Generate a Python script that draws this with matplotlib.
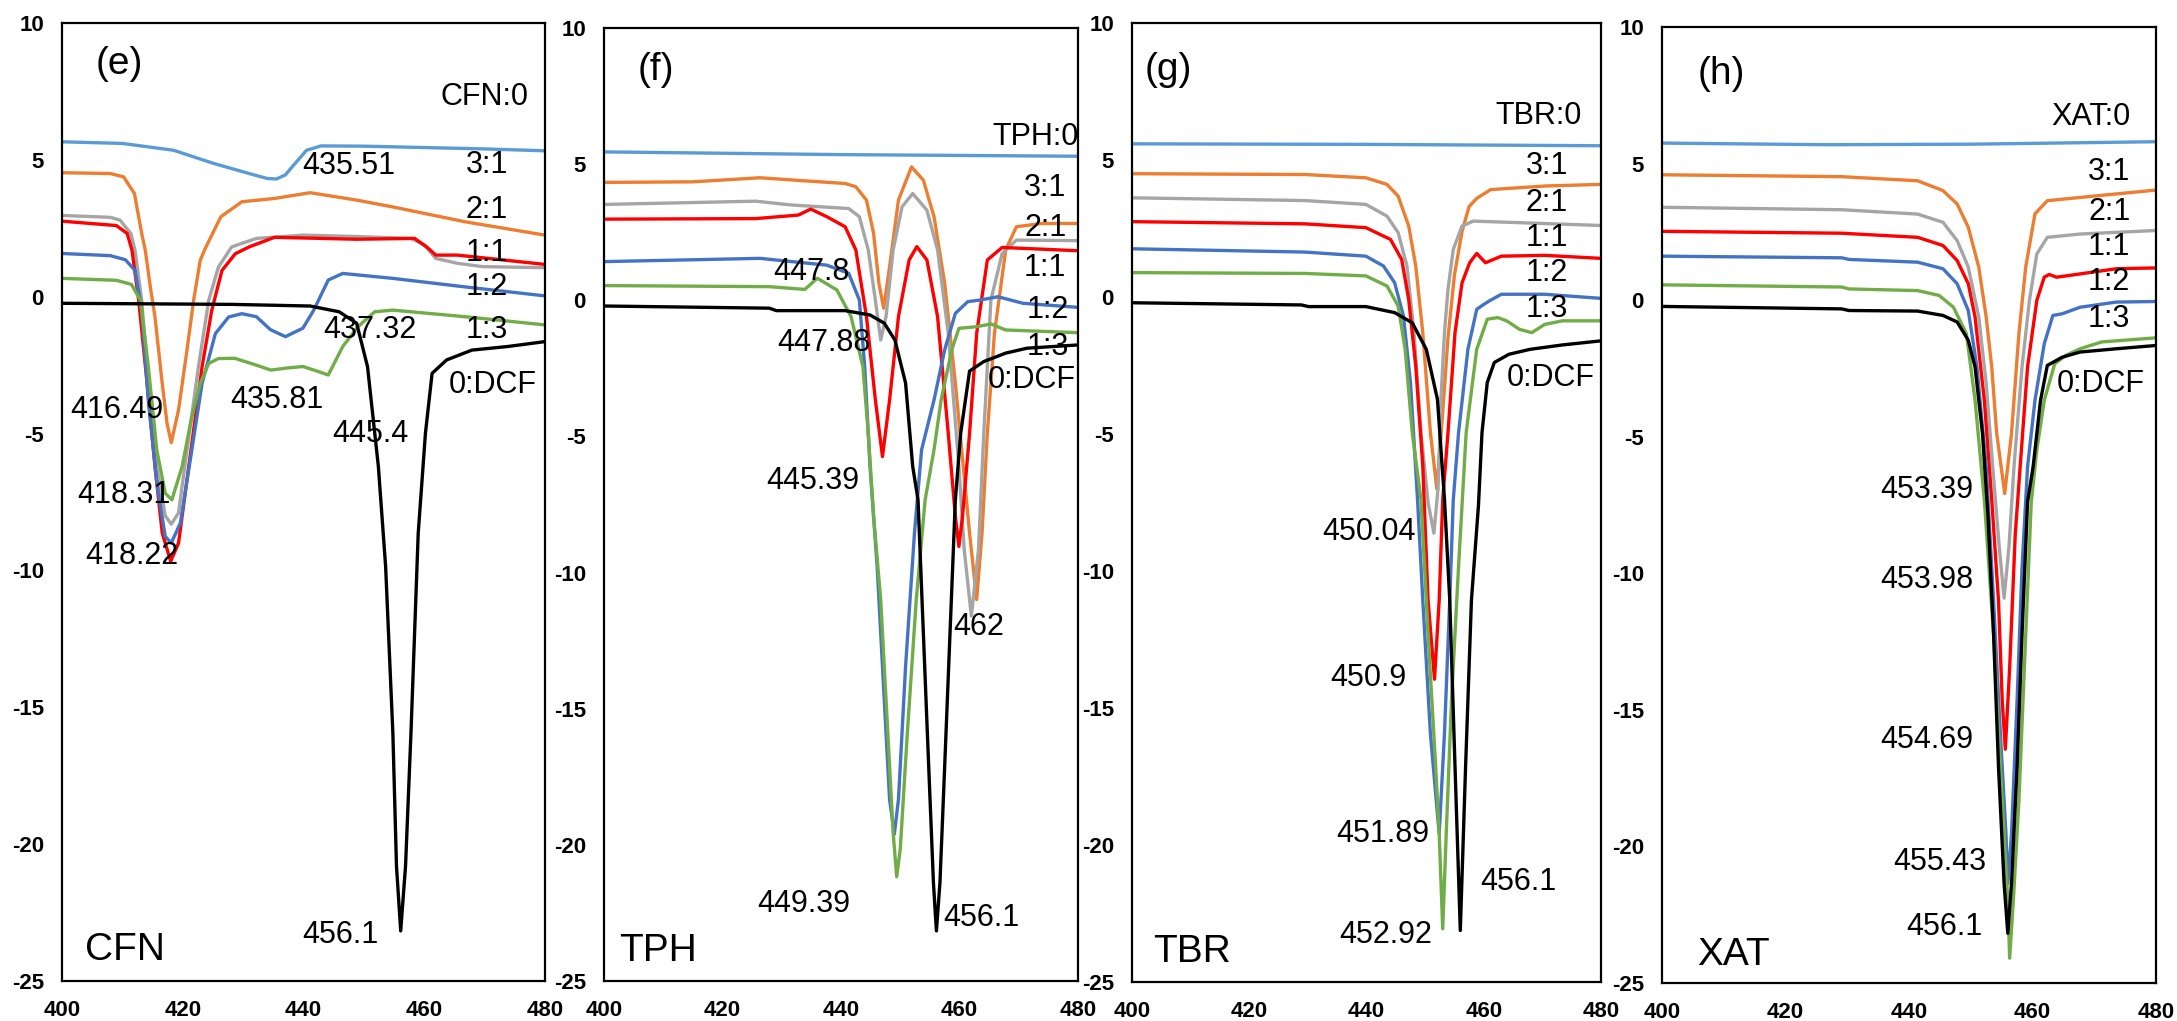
import matplotlib
matplotlib.use("Agg")
import matplotlib.pyplot as plt

plt.rcParams['font.family'] = ['Liberation Sans', 'DejaVu Sans']
plt.rcParams['axes.unicode_minus'] = False

# ---- data (wavelength, signal) ----
# panel (e) CFN
e_0 = [(400, 5.66), (410, 5.6), (418.5, 5.35), (425.1, 4.87), (431, 4.5), (434, 4.32), (435.5, 4.30),
       (437, 4.45), (438.1, 4.74), (440.5, 5.35), (442.9, 5.51), (450, 5.5), (460, 5.45), (470, 5.4), (480, 5.33)]
e_31 = [(400, 4.53), (408, 4.5), (410.2, 4.38), (412, 3.77), (413.2, 2.31), (413.8, 1.69), (414.6, 0.4),
        (415.4, -0.74), (416.6, -3.17), (417.4, -4.63), (418.1, -5.33), (419.3, -4.14), (420.7, -1.95),
        (421.8, -0.13), (422.9, 1.33), (423.7, 1.75), (426.3, 2.92), (429.8, 3.47), (435.2, 3.59),
        (441.1, 3.8), (448.8, 3.53), (454.8, 3.28), (466.7, 2.74), (480, 2.25)]
e_21 = [(400, 2.97), (408, 2.9), (409.6, 2.8), (411.4, 2.31), (412.1, 1.69), (413.2, -0.13), (414.3, -3.17),
        (415.7, -6.2), (417.1, -8.0), (418.1, -8.31), (419.3, -7.9), (420.7, -5.6), (422.6, -2.56),
        (424.3, -0.13), (425.9, 1.08), (428.1, 1.82), (432.2, 2.13), (440, 2.25), (448.8, 2.2),
        (457.8, 2.13), (460, 1.9), (461.9, 1.4), (465.5, 1.22), (469.6, 1.1), (480, 1.06)]
e_11 = [(400, 2.76), (409, 2.6), (410.8, 2.31), (411.6, 1.69), (412.7, -0.13), (414.1, -3.17), (415.4, -6.2),
        (416.6, -8.63), (418, -9.67), (419.3, -9.0), (421, -6.2), (423.2, -2.56), (424.8, -0.5),
        (426.5, 0.96), (428.7, 1.57), (431, 1.82), (435.2, 2.17), (448.8, 2.1), (458.4, 2.13),
        (460.5, 1.8), (461.9, 1.52), (465.5, 1.52), (480, 1.18)]
e_12 = [(400, 1.58), (408, 1.5), (410.5, 1.35), (412.1, 0.96), (413.2, -0.5), (414.3, -3.8), (415.7, -6.8),
        (417.1, -8.76), (418.1, -9.0), (419.6, -8.27), (421.5, -5.6), (423.2, -3.17), (425.4, -1.35),
        (427.6, -0.74), (429.8, -0.62), (432.2, -0.73), (434.5, -1.2), (437, -1.46), (439.9, -1.15),
        (441.7, -0.49), (444.1, 0.61), (446.5, 0.85), (454.8, 0.67), (466.7, 0.36), (480, 0.03)]
e_13 = [(400, 0.67), (409, 0.6), (411.5, 0.45), (413, -0.13), (414.3, -2.56), (415.7, -5.6), (417.1, -7.18),
        (418.2, -7.42), (419.9, -6.2), (421.5, -4.38), (422.9, -3.17), (424.3, -2.44), (425.9, -2.26),
        (428.6, -2.25), (431.5, -2.45), (434.6, -2.68), (437.5, -2.6), (439.9, -2.55), (442, -2.7),
        (444.1, -2.86), (446.5, -1.82), (449, -1.1), (451.8, -0.55), (454.8, -0.49), (466.7, -0.73), (480, -1.03)]
e_dcf = [(400, -0.24), (428.1, -0.28), (441.1, -0.34), (445.9, -0.55), (448.8, -0.97), (450.6, -2.55),
         (452.4, -6.2), (453.6, -9.85), (454.8, -15.93), (455.4, -20.8), (456.1, -23.17), (456.9, -20.8),
         (457.8, -15.93), (459, -8.64), (460.2, -4.98), (461.3, -2.8), (463.7, -2.31), (467.9, -1.95),
         (473.8, -1.82), (480, -1.64)]

# panel (f) TPH
f_0 = [(400, 5.45), (440, 5.35), (480, 5.29)]
f_31 = [(400, 4.33), (415, 4.35), (426.3, 4.5), (433, 4.4), (440.7, 4.29), (442.5, 4.17), (444.3, 3.68),
        (445.5, 2.46), (446.4, 0.62), (447.2, -0.29), (448.2, 1.23), (449.7, 3.68), (451.9, 4.9),
        (453.9, 4.41), (455.7, 3.07), (457.5, 0.62), (459.3, -3.04), (461.7, -8.55), (462.9, -10.99),
        (463.8, -8.55), (464.7, -4.88), (465.9, -1.21), (467.8, 1.85), (469.6, 2.7), (473.8, 2.82), (480, 2.82)]
f_21 = [(400, 3.52), (425.6, 3.64), (431.6, 3.5), (441.3, 3.37), (443.1, 3.07), (444.6, 1.85), (445.8, 0.01),
        (446.7, -1.46), (447.6, -0.6), (448.8, 1.85), (450.3, 3.43), (452.1, 3.92), (454.5, 3.31),
        (456.3, 1.85), (458.1, -1.21), (459.9, -6.1), (460.8, -9.16), (462.0, -11.6), (463.2, -9.16),
        (464.1, -4.88), (465.3, 0.01), (467.2, 1.72), (469.6, 2.21), (480, 2.19)]
f_11 = [(400, 2.98), (425.6, 3.0), (432.8, 3.13), (434.9, 3.35), (437.6, 3.07), (440.7, 2.7), (442.5, 1.85),
        (444.3, -0.6), (445.8, -3.66), (447.0, -5.74), (448.2, -3.66), (449.7, -0.6), (451.5, 1.48),
        (452.8, 1.97), (454.5, 1.48), (456.3, -0.6), (458.1, -4.88), (459.3, -7.94), (459.9, -9.04),
        (460.5, -7.94), (461.7, -4.88), (462.9, -1.21), (464.7, 1.48), (467.2, 1.94), (480, 1.82)]
f_12 = [(400, 1.42), (426.3, 1.54), (437.6, 1.29), (441.3, 0.99), (443.1, 0.01), (444, -2.44), (444.9, -6.1),
        (446.1, -9.77), (447.3, -14.66), (448.2, -18.33), (449, -19.61), (449.7, -18.33), (450.9, -13.44),
        (452.4, -8.55), (453.6, -5.49), (455.7, -3.66), (457.5, -1.82), (459.3, -0.48), (461.4, -0.05),
        (463.5, 0.01), (466.5, 0.13), (470.7, -0.11), (480, -0.26)]
f_13 = [(400, 0.54), (427.9, 0.5), (433.9, 0.4), (436, 0.81), (439.3, 0.38), (441.7, -0.6), (443.7, -2.44),
        (444.6, -4.88), (445.5, -7.94), (446.7, -11.0), (447.9, -15.88), (448.8, -19.55), (449.4, -21.17),
        (450, -20.16), (451.2, -15.88), (452.7, -11.0), (454.2, -7.33), (455.7, -5.49), (456.9, -3.66),
        (458.7, -1.82), (459.9, -1.03), (462.9, -0.97), (465.3, -0.87), (467.8, -1.09), (480, -1.19)]
f_dcf = [(400, -0.21), (427.9, -0.29), (429.1, -0.38), (440.7, -0.38), (444.9, -0.54), (447.3, -0.84),
         (449.1, -1.46), (450.9, -3.04), (452.1, -6.1), (453, -7.33), (453.9, -12.22), (454.8, -17.11),
         (455.6, -21.39), (456.1, -23.16), (456.7, -21.39), (457.5, -17.11), (458.4, -12.22), (459.3, -7.33),
         (460.2, -4.88), (461.7, -2.6), (464.1, -2.25), (467.8, -1.94), (471.4, -1.76), (480, -1.64)]

# panel (g) TBR
g_0 = [(400, 5.59), (440, 5.57), (480, 5.52)]
g_31 = [(400, 4.5), (429.5, 4.47), (439.9, 4.35), (443.5, 4.11), (445.4, 3.68), (447.2, 2.59), (448.4, 1.13),
        (449.6, -1.3), (450.9, -4.95), (452.0, -7.0), (452.9, -4.5), (453.9, -1.5), (455.0, 0.8),
        (456.3, 2.4), (457.5, 3.3), (458.8, 3.6), (461.2, 3.92), (470.4, 4.05), (480, 4.11)]
g_21 = [(400, 3.62), (429.5, 3.52), (439.9, 3.38), (443.5, 2.95), (445.4, 2.35), (446.9, 1.13), (448.1, -1.3),
        (449.3, -4.95), (450.5, -7.5), (451.5, -8.62), (452.2, -7.0), (452.7, -3.73), (453.3, -1.3),
        (453.9, 0.28), (454.8, 1.74), (456.3, 2.59), (458.2, 2.77), (480, 2.61)]
g_11 = [(400, 2.75), (429.5, 2.67), (439.9, 2.53), (444.1, 2.1), (446.0, 1.37), (447.2, -0.09), (448.4, -2.52),
        (449.6, -6.16), (450.5, -11.06), (451.6, -13.95), (452.4, -11.06), (453.0, -7.41), (453.9, -4.95),
        (455.1, -1.3), (456.3, 0.52), (457.6, 1.25), (458.8, 1.59), (460.3, 1.25), (463.0, 1.49),
        (470.4, 1.52), (480, 1.41)]
g_12 = [(400, 1.76), (429.5, 1.64), (439.9, 1.49), (442.9, 1.13), (444.8, 0.52), (446.3, -0.69), (447.5, -3.12),
        (448.7, -7.38), (449.6, -11.06), (450.9, -15.93), (452.4, -19.59), (453.3, -15.93), (454.2, -11.06),
        (454.8, -7.41), (455.7, -4.95), (457.3, -1.91), (458.8, -0.45), (460.0, -0.27), (460.9, -0.15),
        (463.0, 0.1), (470.4, 0.1), (480, -0.05)]
g_13 = [(400, 0.89), (429.5, 0.86), (439.9, 0.77), (443.5, 0.4), (445.4, -0.33), (446.6, -1.91), (447.8, -4.95),
        (449.3, -7.41), (450.5, -12.28), (451.8, -17.15), (452.4, -19.59), (453.0, -23.06), (453.6, -19.59),
        (454.5, -14.71), (455.7, -9.84), (457.0, -4.95), (458.8, -1.91), (460.6, -0.81), (462.4, -0.75),
        (463.9, -0.87), (466.1, -1.18), (468.2, -1.3), (470.4, -1.0), (473.4, -0.87), (480, -0.87)]
g_dcf = [(400, -0.21), (428.9, -0.29), (430.1, -0.35), (439.9, -0.35), (444.8, -0.57), (447.8, -0.94),
         (450.2, -1.91), (452.1, -3.73), (453.3, -7.38), (454.2, -11.06), (455.1, -17.15), (456.0, -23.12),
         (456.9, -17.15), (457.9, -11.06), (459.1, -7.6), (459.7, -4.95), (460.6, -3.12), (461.8, -2.39),
         (464.3, -2.09), (467.9, -1.91), (473.4, -1.75), (480, -1.6)]

# panel (h) XAT
h_0 = [(400, 5.75), (426.7, 5.69), (450.1, 5.71), (480, 5.8)]
h_31 = [(400, 4.59), (429.1, 4.52), (441.4, 4.37), (445.5, 4.01), (447.8, 3.52), (449.6, 2.67), (451.3, 1.21),
        (452.5, -0.62), (453.4, -2.45), (454.2, -4.88), (455.5, -7.08), (456.6, -4.88), (457.8, -1.23),
        (458.9, 1.21), (460.4, 3.16), (462.4, 3.64), (467.7, 3.76), (480, 4.03)]
h_21 = [(400, 3.40), (429.1, 3.31), (441.4, 3.15), (445.5, 2.85), (447.8, 2.18), (449.6, 1.21), (451.3, -0.62),
        (452.5, -3.06), (453.7, -6.5), (454.6, -9.0), (455.4, -10.91), (456.2, -9.0), (457.0, -6.1),
        (458.3, -2.45), (459.5, -0.01), (460.7, 1.69), (462.4, 2.30), (467.7, 2.42), (480, 2.55)]
h_11 = [(400, 2.52), (429.1, 2.45), (441.4, 2.30), (445.5, 2.0), (447.8, 1.45), (449.6, 0.6), (450.7, -0.62),
        (452.2, -3.67), (453.4, -7.32), (454.5, -11.03), (455.1, -14.68), (455.6, -16.44), (456.3, -13.46),
        (457.2, -8.6), (458.0, -6.1), (459.2, -2.45), (460.7, -0.01), (461.9, 0.84), (462.7, 0.94),
        (463.9, 0.84), (467.7, 0.96), (473.6, 1.15), (480, 1.18)]
h_12 = [(400, 1.61), (429.1, 1.55), (430.3, 1.49), (441.4, 1.39), (445.5, 1.15), (447.8, 0.6), (449.6, -0.38),
        (451.0, -2.45), (452.5, -6.1), (453.7, -11.03), (454.8, -15.89), (455.7, -19.54), (456.0, -21.36),
        (456.6, -19.54), (457.5, -14.68), (458.3, -9.82), (459.2, -6.1), (460.4, -3.67), (461.9, -1.6),
        (463.3, -0.56), (464.8, -0.5), (467.7, -0.26), (473.6, -0.07), (480, -0.05)]
h_13 = [(400, 0.56), (429.1, 0.48), (430.3, 0.41), (441.4, 0.35), (444.9, 0.17), (447.2, -0.26), (449.3, -1.23),
        (450.7, -3.67), (452.2, -7.32), (453.7, -12.25), (455.1, -18.32), (456.0, -21.97), (456.3, -24.09),
        (456.9, -21.97), (457.8, -18.32), (458.9, -12.25), (459.8, -7.39), (460.7, -5.49), (461.9, -3.67),
        (463.6, -2.33), (465.4, -2.02), (467.7, -1.78), (471.2, -1.53), (480, -1.38)]
h_dcf = [(400, -0.23), (429.1, -0.32), (430.3, -0.38), (441.4, -0.40), (445.5, -0.56), (447.8, -0.8),
         (449.6, -1.47), (450.7, -2.45), (451.9, -4.88), (452.8, -7.93), (453.7, -12.25), (454.5, -17.11),
         (455.4, -21.36), (456.0, -23.18), (456.6, -21.36), (457.5, -17.11), (458.3, -12.25), (459.2, -7.39),
         (460.1, -6.1), (461.3, -3.67), (462.4, -2.39), (464.8, -2.09), (467.7, -1.9), (473.6, -1.78), (480, -1.66)]

x_ticks = [400, 420, 440, 460, 480]
y_ticks = [-25, -20, -15, -10, -5, 0, 5, 10]

# labels (text, x, y, horizontal alignment, size)
e_labels = [("(e)", 405.5, 8.52, 'left', 28), ("CFN:0", 477.3, 7.3, 'right', 22),
            ("435.51", 439.8, 4.78, 'left', 22), ("3:1", 466.9, 4.8, 'left', 22),
            ("2:1", 466.9, 3.15, 'left', 22), ("1:1", 466.9, 1.59, 'left', 22),
            ("1:2", 466.9, 0.35, 'left', 22), ("1:3", 466.9, -1.2, 'left', 22),
            ("437.32", 443.2, -1.2, 'left', 22), ("0:DCF", 464.0, -3.24, 'left', 22),
            ("416.49", 401.3, -4.14, 'left', 22), ("435.81", 427.9, -3.78, 'left', 22),
            ("445.4", 444.7, -5.03, 'left', 22), ("418.31", 402.5, -7.25, 'left', 22),
            ("418.22", 403.8, -9.48, 'left', 22), ("456.1", 439.8, -23.33, 'left', 22),
            ("CFN", 403.8, -23.88, 'left', 28)]
f_labels = [("(f)", 405.7, 8.45, 'left', 28), ("TPH:0", 480.1, 6.0, 'right', 22),
            ("3:1", 470.9, 4.11, 'left', 22), ("2:1", 470.9, 2.64, 'left', 22),
            ("1:1", 470.9, 1.17, 'left', 22), ("1:2", 471.4, -0.36, 'left', 22),
            ("1:3", 471.4, -1.7, 'left', 22), ("0:DCF", 464.8, -2.92, 'left', 22),
            ("447.8", 428.6, 1.05, 'left', 22), ("447.88", 429.3, -1.58, 'left', 22),
            ("445.39", 427.4, -6.65, 'left', 22), ("462", 459.0, -12.0, 'left', 22),
            ("449.39", 425.9, -22.18, 'left', 22), ("456.1", 457.2, -22.67, 'left', 22),
            ("TPH", 402.6, -23.9, 'left', 28)]
g_labels = [("(g)", 402.1, 8.3, 'left', 28), ("TBR:0", 476.8, 6.6, 'right', 22),
            ("3:1", 467.2, 4.78, 'left', 22), ("2:1", 467.2, 3.44, 'left', 22),
            ("1:1", 467.2, 2.16, 'left', 22), ("1:2", 467.2, 0.89, 'left', 22),
            ("1:3", 467.2, -0.45, 'left', 22), ("0:DCF", 464.0, -2.94, 'left', 22),
            ("450.04", 448.4, -8.56, 'right', 22), ("450.9", 446.9, -13.92, 'right', 22),
            ("451.89", 450.7, -19.59, 'right', 22), ("456.1", 459.4, -21.35, 'left', 22),
            ("452.92", 451.2, -23.3, 'right', 22), ("TBR", 403.6, -23.91, 'left', 28)]
h_labels = [("(h)", 405.7, 8.27, 'left', 28), ("XAT:0", 475.8, 6.69, 'right', 22),
            ("3:1", 469.0, 4.68, 'left', 22), ("2:1", 469.0, 3.22, 'left', 22),
            ("1:1", 469.0, 1.94, 'left', 22), ("1:2", 469.0, 0.66, 'left', 22),
            ("1:3", 469.0, -0.68, 'left', 22), ("0:DCF", 463.9, -3.06, 'left', 22),
            ("453.39", 450.4, -6.95, 'right', 22), ("453.98", 450.4, -10.24, 'right', 22),
            ("454.69", 450.4, -16.11, 'right', 22), ("455.43", 452.5, -20.57, 'right', 22),
            ("456.1", 451.9, -22.94, 'right', 22), ("XAT", 405.7, -23.99, 'left', 28)]

colors = ['#5B9BD5', '#ED7D31', '#A5A5A5', '#FF0000', '#4472C4', '#70AD47', '#000000']

panels = [
    ([e_0, e_31, e_21, e_11, e_12, e_13, e_dcf], e_labels, (62, 545, 23, 981)),
    ([f_0, f_31, f_21, f_11, f_12, f_13, f_dcf], f_labels, (604, 1078, 28, 981)),
    ([g_0, g_31, g_21, g_11, g_12, g_13, g_dcf], g_labels, (1132, 1601, 23, 982)),
    ([h_0, h_31, h_21, h_11, h_12, h_13, h_dcf], h_labels, (1662, 2156, 27, 983)),
]

W, H = 2177, 1021
fig = plt.figure(figsize=(W / 100, H / 100), dpi=100)

for curves, labels, (l, r, t, b) in panels:
    ax = fig.add_axes([l / W, 1 - b / H, (r - l) / W, (b - t) / H])
    for pts, c in zip(curves, colors):
        xs = [p[0] for p in pts]
        ys = [p[1] for p in pts]
        ax.plot(xs, ys, color=c, lw=2.4, solid_joinstyle='round')
    for txt, x, y, ha, sz in labels:
        ax.text(x, y, txt, ha=ha, va='center', fontsize=sz, color='black')
    ax.set_xlim(400, 480)
    ax.set_ylim(-25, 10)
    ax.set_xticks(x_ticks, labels=[str(v) for v in x_ticks], fontsize=16, fontweight='bold')
    ax.set_yticks(y_ticks, labels=[str(v) for v in y_ticks], fontsize=16, fontweight='bold')
    ax.tick_params(length=0)
    ax.tick_params(axis='y', pad=13)
    ax.tick_params(axis='x', pad=14)
    for s in ax.spines.values():
        s.set_linewidth(1.6)

fig.savefig("out.png", dpi=100)
